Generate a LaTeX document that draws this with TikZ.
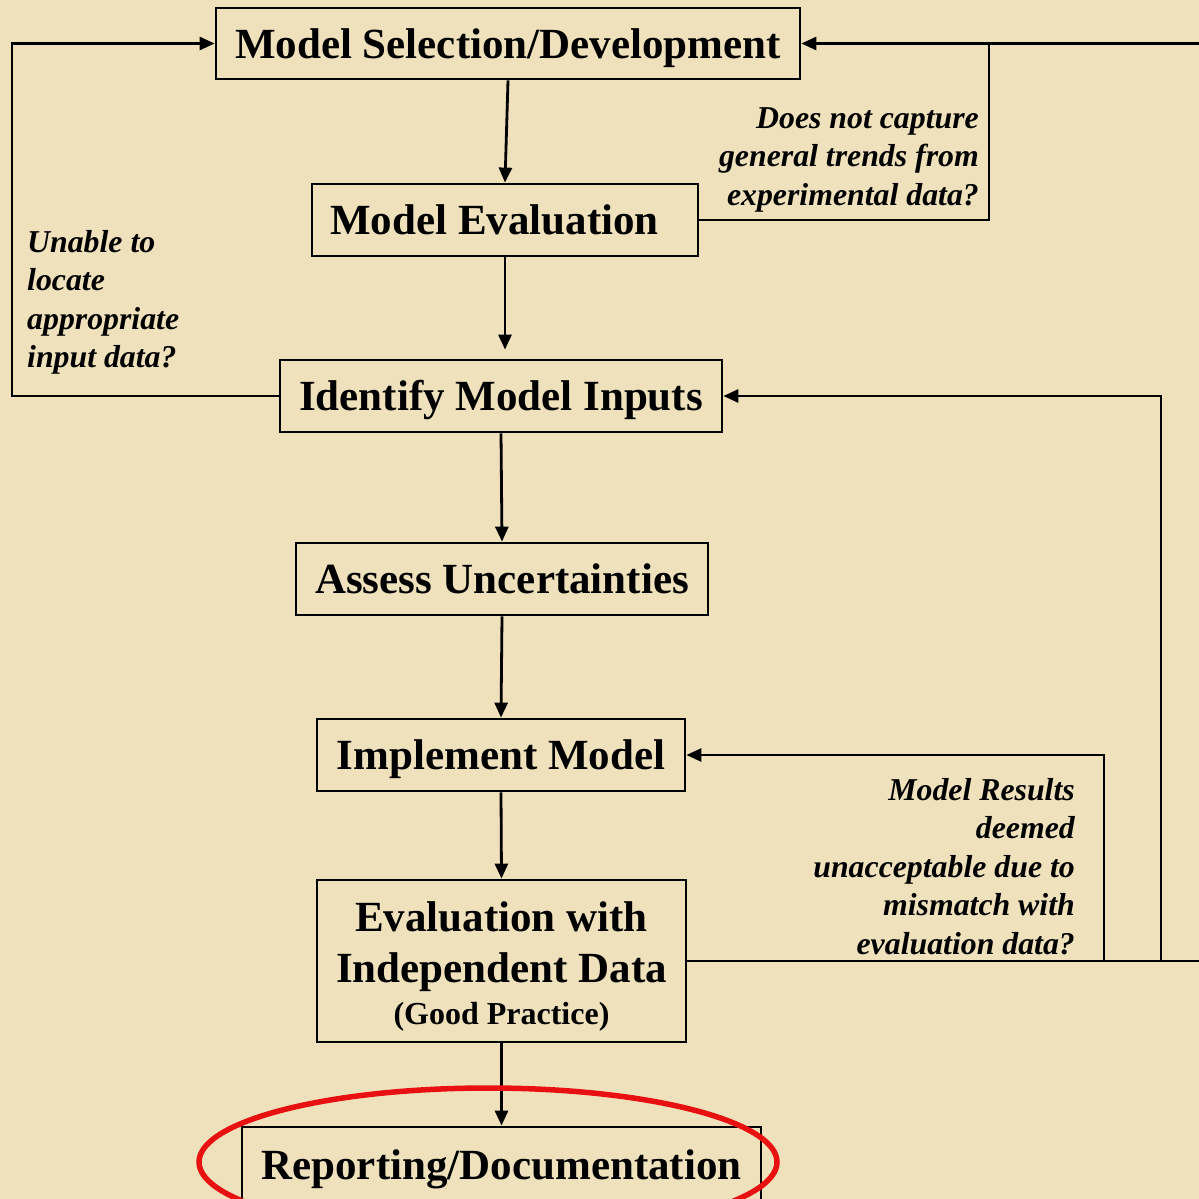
\documentclass[tikz,border=0pt]{standalone}
\usepackage{fontspec}
\setmainfont{Liberation Serif}
\usetikzlibrary{arrows.meta}
\definecolor{parch}{RGB}{239,225,188}
\definecolor{ellred}{RGB}{232,16,16}
\begin{document}
\begin{tikzpicture}[x=1pt,y=-1pt,
  box/.style={draw, line width=2.8pt, inner sep=0pt, font=\fontsize{43}{51}\selectfont\bfseries},
  onebox/.style={box, text height=29.5pt, text depth=0pt},
  lbl/.style={font=\fontsize{31.8}{38.5}\selectfont\bfseries\itshape, inner sep=0pt},
  arr/.style={line width=2.8pt, -{Triangle[length=15pt,width=13pt]}},
  ln/.style={line width=2.8pt}]
\useasboundingbox (0,0) rectangle (1199,1199);
\fill[parch] (0,0) rectangle (1199,1199);
\clip (0,0) rectangle (1199,1199);

\node[onebox, minimum width=584pt, minimum height=71pt] (msd) at (508,43.5) {Model Selection/Development};
\node[onebox, minimum width=386pt, minimum height=72pt] (me) at (505,220) {Model Evaluation\kern21pt\relax};
\node[onebox, minimum width=442pt, minimum height=72pt] (imi) at (501,396) {Identify Model Inputs};
\node[onebox, minimum width=412pt, minimum height=72pt] (au) at (502,579) {Assess Uncertainties};
\node[onebox, minimum width=368pt, minimum height=72pt] (im) at (501,755) {Implement Model};
\node[box, minimum width=369pt, minimum height=162pt, align=center] (eid) at (501.5,961)
  {\rule{0pt}{40pt}Evaluation with\\Independent Data\\[-9pt]{\fontsize{32}{32}\selectfont(Good Practice)}};
\node[onebox, minimum width=519pt, minimum height=76pt] (rd) at (501.5,1165) {Reporting/Documentation};

\node[lbl, align=right, anchor=north east] (l1) at (979,107)
  {Does not capture\\general trends from\\experimental data?};
\node[lbl, align=left, anchor=north west] (l2) at (27,230)
  {Unable to\\locate\\appropriate\\input data?};
\node[lbl, align=right, anchor=north east] (l3) at (1075,778)
  {Model Results\\deemed\\unacceptable due to\\mismatch with\\evaluation data?};

\coordinate (lx) at (12,0);
\coordinate (jx) at (989,0);
\coordinate (x1) at (1104,0);
\coordinate (x2) at (1161,0);
\coordinate (rtop) at (1199,43.5);
\coordinate (rbot) at (1199,961);

\draw[arr] (msd.south) -- (me.north);
\draw[arr] (me.south) -- ([yshift=9pt]me.south |- imi.north);
\draw[arr] (imi.south) -- (au.north);
\draw[arr] (au.south) -- (im.north);
\draw[arr] (im.south) -- (eid.north);
\draw[arr] (eid.south) -- (rd.north);

\draw[arr] (imi.west) -- (imi.west -| lx) |- (msd.west);
\draw[arr] (rtop) -- (msd.east);
\draw[ln] (me.east) -| (jx |- msd.east);
\draw[ln] (eid.east) -- (rbot);
\draw[arr] (eid.east -| x1) |- (im.east);
\draw[arr] (eid.east -| x2) |- (imi.east);

\draw[ellred, line width=5.5pt] (488,1162) ellipse [x radius=289, y radius=74];
\end{tikzpicture}
\end{document}
